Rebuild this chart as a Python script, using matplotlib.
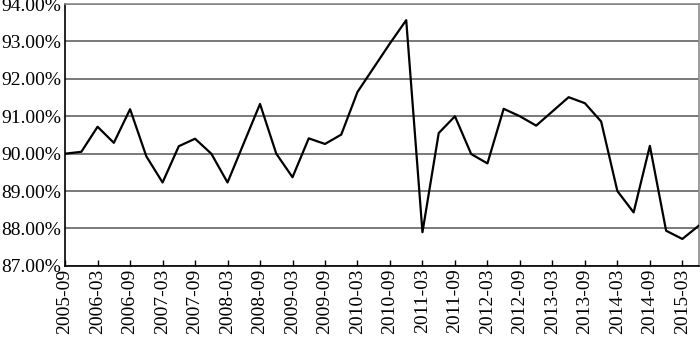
import matplotlib
matplotlib.use("Agg")
import matplotlib.pyplot as plt
from matplotlib.ticker import FuncFormatter

# quarterly labels 2005-09 .. 2015-06
quarters = []
for y in range(2005, 2016):
    for m in ["03", "06", "09", "12"]:
        quarters.append("%d-%s" % (y, m))
quarters = quarters[quarters.index("2005-09"):quarters.index("2015-06") + 1]

values = [90.00, 90.05, 90.72, 90.29, 91.19, 89.93, 89.23, 90.20, 90.40, 90.00,
          89.23, 90.28, 91.33, 90.00, 89.37, 90.41, 90.26, 90.51, 91.65, 92.30,
          92.95, 93.57, 87.90, 90.55, 91.00, 89.99, 89.74, 91.20, 91.00, 90.75,
          91.13, 91.51, 91.35, 90.86, 89.00, 88.43, 90.21, 87.94, 87.72, 88.07]

y_ticks = [87, 88, 89, 90, 91, 92, 93, 94]

plt.rcParams['font.family'] = ['Liberation Serif', 'DejaVu Serif']

fig = plt.figure(figsize=(7, 3.4), dpi=100)
ax = fig.add_axes([0.093, 0.218, 0.905, 0.770])

x = list(range(len(values)))
ax.plot(x, values, color="black", linewidth=1.6, zorder=3)

ax.set_xlim(0, len(values) - 1)
ax.set_ylim(87, 94)
ax.set_yticks(y_ticks)
ax.yaxis.set_major_formatter(FuncFormatter(lambda v, p: "%.2f%%" % v))
ax.grid(axis="y", color="#6e6e6e", linewidth=1.3)
ax.set_axisbelow(True)

ax.set_xticks(x[::2])
ax.set_xticklabels(quarters[::2], rotation=90)
ax.tick_params(axis="x", direction="in", length=4, width=1, labelsize=14, pad=2)
ax.tick_params(axis="y", length=0, labelsize=14, pad=3)

for s in ["left", "bottom"]:
    ax.spines[s].set_color("black")
    ax.spines[s].set_linewidth(1.2)
for s in ["top", "right"]:
    ax.spines[s].set_color("#8a8a8a")
    ax.spines[s].set_linewidth(1.2)

fig.savefig("out.png", dpi=100)
